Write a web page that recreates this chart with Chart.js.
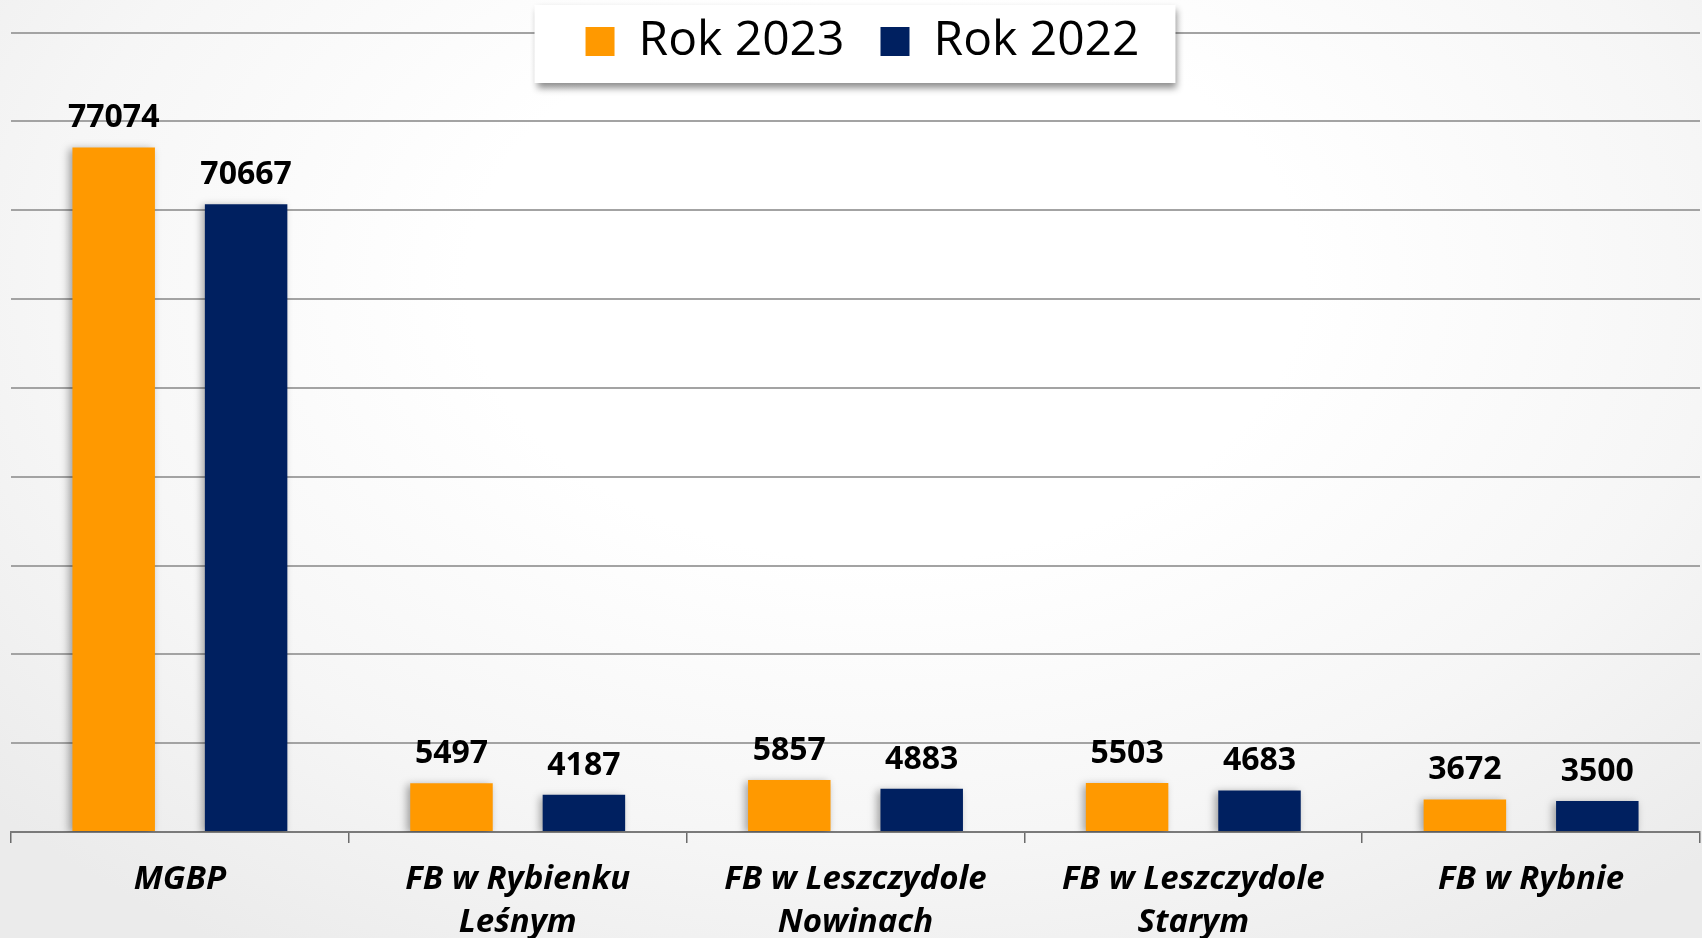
<!DOCTYPE html>
<html lang="pl">
<head>
<meta charset="utf-8">
<title>Rok 2023 / Rok 2022</title>
<script src="https://cdn.jsdelivr.net/npm/chart.js@4.4.1/dist/chart.umd.min.js"></script>
<style>
    html, body { margin: 0; padding: 0; }
    body {
        width: 1702px;
        height: 938px;
        overflow: hidden;
        background: radial-gradient(ellipse 70% 85% at 52% 30%, #ffffff 35%, #f6f6f6 70%, #ebebeb 100%);
    }
    .chart-container { position: relative; width: 1702px; height: 938px; }
</style>
</head>
<body>
<div class="chart-container"><canvas id="visitsChart"></canvas></div>
<script>
const categories = [
    ['MGBP'],
    ['FB w Rybienku', 'Leśnym'],
    ['FB w Leszczydole', 'Nowinach'],
    ['FB w Leszczydole', 'Starym'],
    ['FB w Rybnie']
];
const seriesNames = ['Rok 2023', 'Rok 2022'];
const values2023 = [77074, 5497, 5857, 5503, 3672];
const values2022 = [70667, 4187, 4883, 4683, 3500];
const yMin = 0;
const yMax = 90000;
const yStep = 10000;

(function() {
    const ORANGE = '#ff9900';
    const NAVY = '#002060';
    const FAMILY = "'Open Sans', 'Noto Sans', sans-serif";
    const LEGEND_SHIFT = 7;

    // soft shadow under the bars, value labels above them
    const barDecor = {
        id: 'barDecor',
        beforeDatasetsDraw(chart) {
            const ctx = chart.ctx;
            ctx.save();
            ctx.shadowColor = 'rgba(0, 0, 0, 0.35)';
            ctx.shadowBlur = 8;
            ctx.shadowOffsetX = -3;
            ctx.shadowOffsetY = 2;
        },
        afterDatasetsDraw(chart) {
            const ctx = chart.ctx;
            ctx.restore();
            ctx.save();
            ctx.font = `bold 32px ${FAMILY}`;
            ctx.fillStyle = '#000';
            ctx.textAlign = 'center';
            ctx.textBaseline = 'alphabetic';
            chart.data.datasets.forEach((ds, i) => {
                chart.getDatasetMeta(i).data.forEach((bar, j) => {
                    ctx.fillText(String(ds.data[j]), bar.x, bar.y - 20);
                });
            });
            ctx.restore();
        }
    };

    // white framed legend sitting on top of the grid
    const legendFrame = {
        id: 'legendFrame',
        afterDraw(chart) {
            const legend = chart.legend;
            if (!legend || !legend.legendHitBoxes.length) return;
            const boxes = legend.legendHitBoxes;
            const left = Math.min(...boxes.map(b => b.left)) - 51;
            const right = Math.max(...boxes.map(b => b.left + b.width)) + 36;
            const ctx = chart.ctx;
            ctx.save();
            ctx.translate(LEGEND_SHIFT, 0);
            ctx.save();
            ctx.shadowColor = 'rgba(0, 0, 0, 0.45)';
            ctx.shadowBlur = 7;
            ctx.shadowOffsetX = 2;
            ctx.shadowOffsetY = 5;
            ctx.fillStyle = '#ffffff';
            ctx.fillRect(left, 5, right - left, 78);
            ctx.restore();
            // legend clips to its layout box, widen it for this pass
            const bottom = legend.bottom;
            legend.bottom = 95;
            legend.draw();
            legend.bottom = bottom;
            ctx.restore();
        }
    };

    function createChart() {
        const ctx = document.getElementById('visitsChart').getContext('2d');
        return new Chart(ctx, {
            type: 'bar',
            data: {
                labels: categories,
                datasets: [
                    { label: seriesNames[0], data: values2023, backgroundColor: ORANGE },
                    { label: seriesNames[1], data: values2022, backgroundColor: NAVY }
                ]
            },
            options: {
                responsive: true,
                maintainAspectRatio: false,
                animation: false,
                categoryPercentage: 0.784,
                barPercentage: 0.623,
                layout: { padding: { top: -18.5, left: 11, right: 2, bottom: 0 } },
                scales: {
                    x: {
                        grid: {
                            offset: true,
                            drawOnChartArea: false,
                            drawTicks: true,
                            tickLength: 11,
                            color: '#6b6b6b',
                            lineWidth: 1.5
                        },
                        border: { display: true, color: '#7a7a7a', width: 2 },
                        ticks: {
                            color: '#000',
                            font: { family: FAMILY, size: 33, weight: 'bold', style: 'italic', lineHeight: 1.3 },
                            padding: 15,
                            maxRotation: 0,
                            autoSkip: false
                        },
                        afterFit(scale) { scale.height = 106; }
                    },
                    y: {
                        min: yMin,
                        max: yMax,
                        ticks: { display: false, stepSize: yStep },
                        grid: { color: '#a3a3a3', lineWidth: 2, drawTicks: false },
                        border: { display: false }
                    }
                },
                plugins: {
                    legend: {
                        position: 'top',
                        align: 'center',
                        maxHeight: 51.1,
                        labels: {
                            boxWidth: 29,
                            boxHeight: 29,
                            padding: 36,
                            color: '#000',
                            font: { family: FAMILY, size: 48 }
                        }
                    },
                    tooltip: { enabled: false }
                }
            },
            plugins: [barDecor, legendFrame]
        });
    }

    createChart();
})();
</script>
</body>
</html>
